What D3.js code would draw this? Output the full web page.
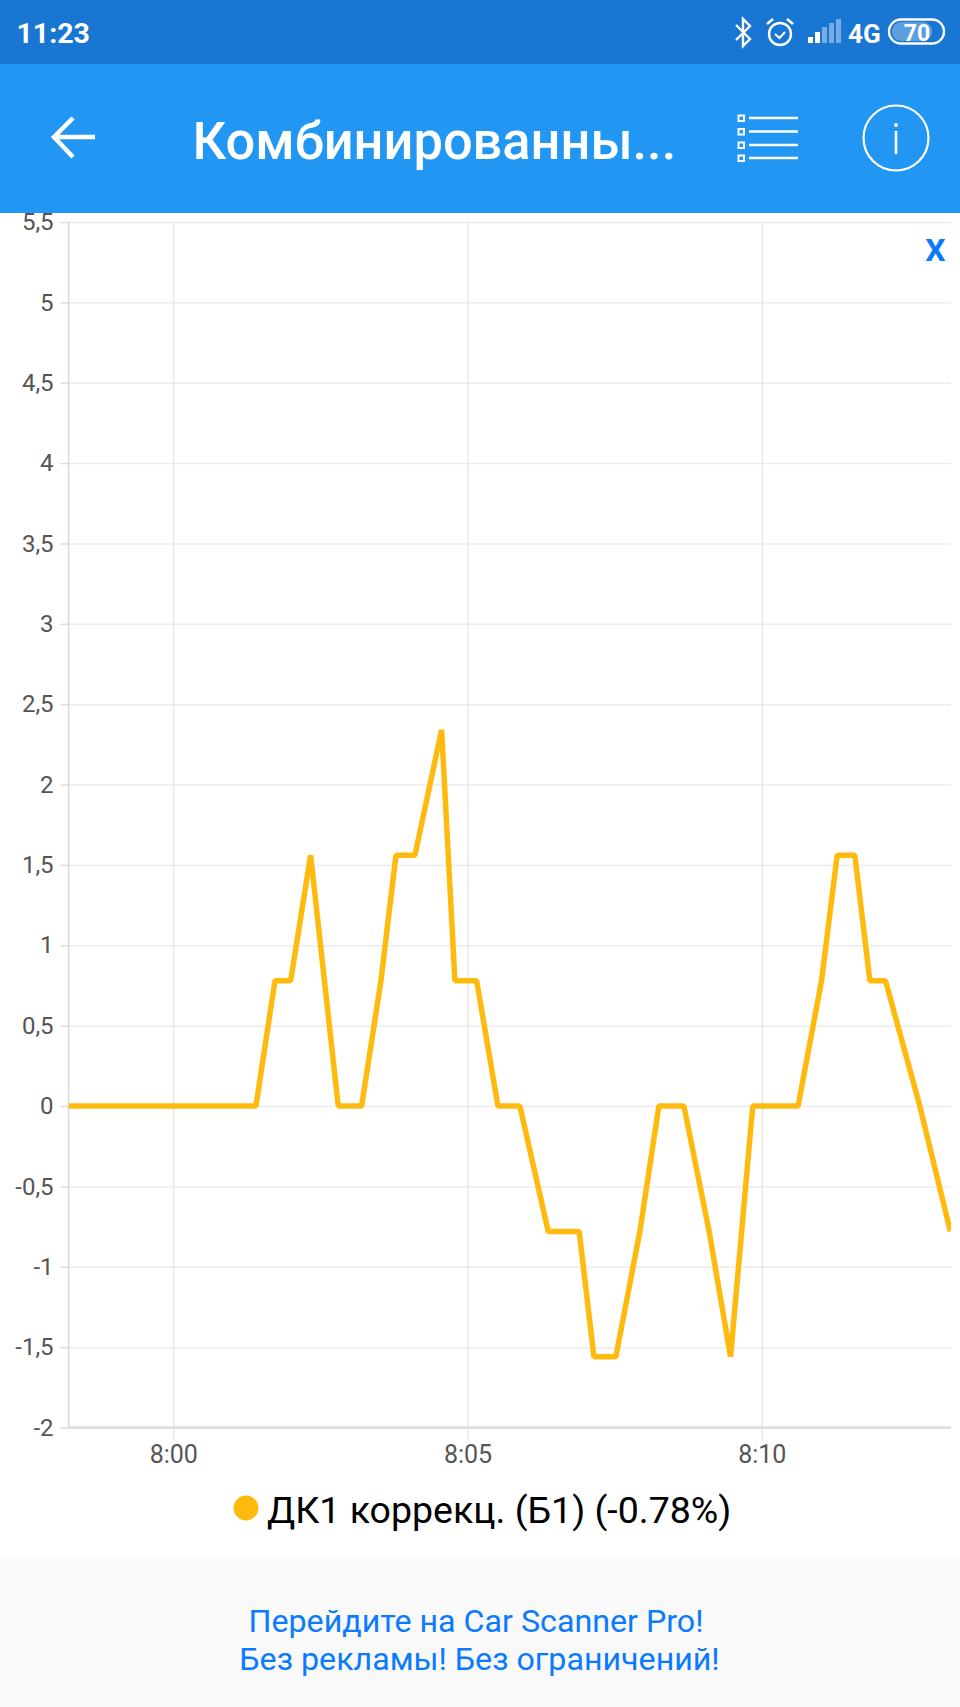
<!DOCTYPE html>
<html><head><meta charset="utf-8">
<script src="https://cdn.jsdelivr.net/npm/d3@7"></script>
<style>html,body{margin:0;padding:0;background:#fff}svg{display:block}text{font-family:Roboto,sans-serif}</style>
</head><body><div id="c"></div>
<script>
const seriesName = "ДК1 коррекц. (Б1) (-0.78%)";
const minutesFrom8 = [-1.78,1.405,1.728,1.995,2.334,2.803,3.201,3.529,3.784,4.106,4.56,4.786,5.155,5.517,5.89,6.371,6.898,7.148,7.521,7.929,8.252,8.677,9.106,9.47,9.847,10.618,11.016,11.281,11.582,11.837,12.103,12.686,13.205];
const correction   = [0,0,0.78,0.78,1.56,0,0,0.78,1.56,1.56,2.34,0.78,0.78,0,0,-0.78,-0.78,-1.56,-1.56,-0.78,0,0,-0.78,-1.56,0,0,0.78,1.56,1.56,0.78,0.78,0,-0.78];
const yTicks = [-2,-1.5,-1,-0.5,0,0.5,1,1.5,2,2.5,3,3.5,4,4.5,5,5.5];
const xTicks = [0,5,10];
const xTickLabels = ["8:00","8:05","8:10"];
const titleText = "Комбинированны...";
const promoLines = ["Перейдите на Car Scanner Pro!","Без рекламы! Без ограничений!"];

const W=960,H=1707;
const svg=d3.select("#c").append("svg").attr("width",W).attr("height",H);
const L=68.6,R=951,T=222,B=1427.5;
const x=d3.scaleLinear().domain([-1.779,13.216]).range([L,R]);
const y=d3.scaleLinear().domain([-2,5.5]).range([B,T]);

// app chrome
svg.append("rect").attr("width",W).attr("height",64).attr("fill","#1976d2");
svg.append("rect").attr("y",64).attr("width",W).attr("height",149).attr("fill","#2196f3");
svg.append("rect").attr("y",1557).attr("width",W).attr("height",150).attr("fill","#f9f9f9");

function path(d,sw,op){return svg.append("path").attr("d",d).attr("fill","none").attr("stroke","#fff").attr("stroke-width",sw).attr("opacity",op||1);}
svg.append("text").attr("x",16.5).attr("y",43).attr("fill","#fff").attr("font-size",28.5).attr("font-weight",700).text("11:23");
// bluetooth
path("M736 25 L750 39 L743 46 L743 19 L750 26 L736 40",2.4);
// alarm
svg.append("circle").attr("cx",780).attr("cy",34).attr("r",11).attr("fill","none").attr("stroke","#fff").attr("stroke-width",2.4);
path("M775 34 L779.5 38 L785 32",2);
path("M767 24 L773 19 M787 19 L793 24",2.4);
// signal
[[808,6,1],[815,11,1],[822,16,.4],[829,20,.4],[836,24,.4]].forEach(s=>svg.append("rect").attr("x",s[0]).attr("y",43-s[1]).attr("width",5).attr("height",s[1]).attr("fill","#fff").attr("opacity",s[2]));
svg.append("text").attr("x",848).attr("y",43).attr("fill","#fff").attr("font-size",26).attr("font-weight",700).text("4G");
svg.append("rect").attr("x",889).attr("y",19.5).attr("width",55).attr("height",24).attr("rx",12).attr("fill","none").attr("stroke","#fff").attr("stroke-width",2.4);
svg.append("rect").attr("x",892).attr("y",22).attr("width",40).attr("height",19).attr("rx",9).attr("fill","#fff").attr("opacity",.3);
svg.append("text").attr("x",917).attr("y",41).attr("text-anchor","middle").attr("fill","#fff").attr("font-size",23).attr("font-weight",700).text("70");
// header
path("M95 137 L55 137 M73 118 L54 137 L73 157",4.5);
svg.append("text").attr("x",192.5).attr("y",159).attr("fill","#fff").attr("font-size",52.4).attr("font-weight",500).text(titleText);
[118,131.5,145,158].forEach(v=>{
  svg.append("rect").attr("x",738.5).attr("y",v-2.5).attr("width",5.5).attr("height",5.5).attr("fill","none").attr("stroke","#fff").attr("stroke-width",2);
  svg.append("rect").attr("x",749).attr("y",v-1.25).attr("width",49).attr("height",2.5).attr("fill","#fff");
});
svg.append("circle").attr("cx",896).attr("cy",138).attr("r",32.5).attr("fill","none").attr("stroke","#fff").attr("stroke-width",2.2);
svg.append("circle").attr("cx",896).attr("cy",125).attr("r",2).attr("fill","#fff");
path("M896 131 L896 154",2.6);

// axes
const yAxis=d3.axisLeft(y).tickValues(yTicks).tickSize(8).tickPadding(7).tickFormat(d=>String(d).replace(".",","));
const gy=svg.append("g").attr("transform",`translate(${L},0)`).call(yAxis);
gy.select(".domain").remove();
gy.selectAll(".tick line").attr("stroke","#dcdcdc").attr("stroke-width",1.5);
gy.selectAll(".tick text").attr("fill","#555").attr("font-size",24);
const gridY=d3.axisRight(y).tickValues(yTicks).tickSize(R-L).tickFormat("");
const ggy=svg.append("g").attr("transform",`translate(${L},0)`).call(gridY);
ggy.select(".domain").remove();
ggy.selectAll(".tick line").attr("stroke","#ececec").attr("stroke-width",1.5);

const gridX=d3.axisBottom(x).tickValues(xTicks).tickSize(B-T+13).tickPadding(5).tickFormat((d,i)=>xTickLabels[i]);
const ggx=svg.append("g").attr("transform",`translate(0,${T})`).call(gridX);
ggx.select(".domain").remove();
ggx.selectAll(".tick line").attr("stroke","#e6e6e6").attr("stroke-width",1.2);
ggx.selectAll(".tick text").attr("fill","#555").attr("font-size",25);

svg.append("line").attr("x1",L).attr("x2",L).attr("y1",T).attr("y2",B).attr("stroke","#d8d8d8").attr("stroke-width",1.5);
svg.append("line").attr("x1",L).attr("x2",R).attr("y1",B).attr("y2",B).attr("stroke","#dcdcdc").attr("stroke-width",2.5);

// series
svg.append("clipPath").attr("id","plot").append("rect").attr("x",L).attr("y",T).attr("width",R-L).attr("height",B-T);
const line=d3.line().x((d,i)=>x(minutesFrom8[i])).y(d=>y(d));
svg.append("path").datum(correction).attr("d",line).attr("clip-path","url(#plot)")
  .attr("fill","none").attr("stroke","#ffba0f").attr("stroke-width",5.5).attr("stroke-linejoin","bevel");

svg.append("text").attr("x",945.5).attr("y",261).attr("text-anchor","end").attr("fill","#0a7aff").attr("font-size",32).attr("font-weight",700).text("X");

// legend
svg.append("circle").attr("cx",246).attr("cy",1508).attr("r",12.5).attr("fill","#ffba0f");
svg.append("text").attr("x",267).attr("y",1523).attr("fill","#000").attr("font-size",37.5).text(seriesName);

// promo
promoLines.forEach((t,i)=>svg.append("text").attr("x",[476,479.5][i]).attr("y",[1632,1670][i]).attr("text-anchor","middle").attr("fill","#0a7aff").attr("font-size",32.2).text(t));
</script></body></html>
